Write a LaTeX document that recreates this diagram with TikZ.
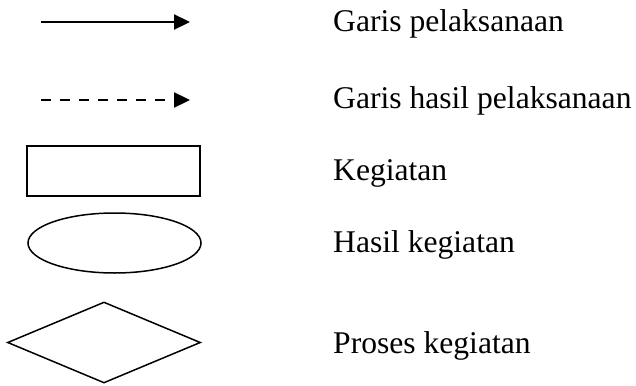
\documentclass[tikz,border=0pt]{standalone}
\usepackage{fontspec}
\setmainfont{Liberation Serif}
\usetikzlibrary{arrows.meta,shapes.geometric}
\begin{document}
\begin{tikzpicture}[x=1pt,y=-1pt,
  arr/.style={line width=2.3pt,-{Triangle[length=16pt,width=15pt]}},
  dasharr/.style={arr,dash pattern=on 10pt off 9pt},
  shp/.style={draw,line width=1.8pt,inner sep=0pt},
  lbl/.style={anchor=base west,inner sep=0pt,font=\fontsize{31.6}{36}\selectfont}]
\useasboundingbox (0,0) rectangle (636,385);
\coordinate (s1) at (41,22);
\coordinate (e1) at (190,22);
\coordinate (s2) at (41,100);
\coordinate (e2) at (190,100);
\draw[arr] (s1) -- (e1);
\draw[dasharr] (s2) -- (e2);
\node[shp,rectangle,minimum width=173pt,minimum height=50pt] (rect) at (113.5,171) {};
\node[shp,ellipse,minimum width=173pt,minimum height=60pt,line width=1.5pt] (ell) at (114.5,243) {};
\node[shp,diamond,minimum width=193pt,minimum height=81pt,line width=1.5pt] (dia) at (104,342.5) {};
\node[lbl] (t1) at (333,32) {Garis pelaksanaan};
\node[lbl] (t2) at (333,108) {Garis hasil pelaksanaan};
\node[lbl] (t3) at (333,180) {Kegiatan};
\node[lbl] (t4) at (333,252) {Hasil kegiatan};
\node[lbl] (t5) at (333,353) {Proses kegiatan};
\end{tikzpicture}
\end{document}
